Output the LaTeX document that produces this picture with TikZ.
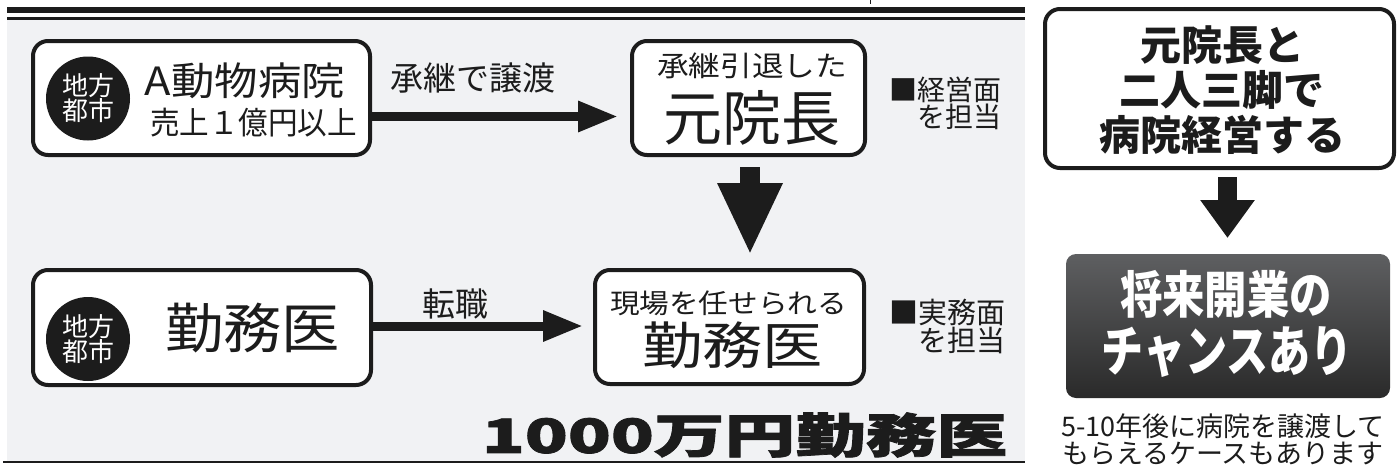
\documentclass[tikz,border=0pt]{standalone}
\usepackage{graphicx}
\usepackage{fontspec}
\setmainfont{Noto Sans CJK JP}
\newfontfamily\jpheavy[FakeBold=1.5]{Noto Sans CJK JP}
\usetikzlibrary{arrows.meta}
\newcommand\fsz[2]{\fontsize{#1}{#2}\selectfont}
\newcommand\fitbox[3]{\resizebox*{#1pt}{#2pt}{\fsz{40}{40}#3}}
\definecolor{ink}{HTML}{1C1C1C}
\definecolor{panel}{HTML}{F1F2F4}
\definecolor{darktop}{HTML}{5E5F61}
\definecolor{darkbot}{HTML}{2A2A2A}
\begin{document}
\begin{tikzpicture}[x=1pt,y=-1pt,
  box/.style={draw=ink,line width=4pt,fill=white,rounded corners=15pt,inner sep=0pt},
  circ/.style={circle,fill=ink,minimum size=84pt,inner sep=0pt,text=white,align=center,font=\fsz{26}{25}},
  txt/.style={inner sep=0pt,text=ink},
  harrow/.style={draw=ink,line width=9pt,-{Triangle[length=40pt,width=29pt]}},
]
\useasboundingbox (0,0) rectangle (1399,471);
% background panel and rules
\fill[panel] (7,19) rectangle (1025,461);
\fill[ink] (7,7) rectangle (1025,13);
\fill[ink] (7,17) rectangle (1025,19.5);
\draw[ink,line width=2pt] (3,461.5) -- (1025,461.5);
\draw[ink,line width=1pt] (870,0) -- (870,4);

% boxes
\node[box,minimum width=337pt,minimum height=114pt] (b1) at (201.5,98) {};
\node[box,minimum width=233pt,minimum height=114pt] (b2) at (748.5,98) {};
\node[box,minimum width=269pt,minimum height=114pt] (b3) at (729.5,327) {};
\node[box,minimum width=338pt,minimum height=115pt] (b4) at (202,327.5) {};
\node[box,minimum width=349pt,minimum height=159pt] (b5) at (1219.5,88.5) {};
\node[rounded corners=10pt,top color=darktop,bottom color=darkbot,
      minimum width=324pt,minimum height=144pt,inner sep=0pt] (b6) at (1228,326) {};

% circles
\node[circ] (c1) at (88,98.5) {地方\\都市};
\node[circ] (c2) at (88,339) {地方\\都市};

% box texts
\node[txt] (t1a) at (245,80.5) {\fitbox{200}{36}{A動物病院}};
\node[txt] (t1b) at (253.5,123) {\fitbox{207}{29}{売上１億円以上}};
\node[txt] (t4) at (252.5,328) {\fitbox{175}{50}{勤務医}};
\node[txt] (t2a) at (752,66) {\fitbox{190}{26}{承継引退した}};
\node[txt] (t2b) at (751.5,117.5) {\fitbox{177}{55}{元院長}};
\node[txt] (t3a) at (728.5,303) {\fitbox{237}{25}{現場を任せられる}};
\node[txt] (t3b) at (732.5,345) {\fitbox{181}{47}{勤務医}};

% side notes
\node[txt,font=\fsz{28}{27},align=right] (n1) at (945,103.5) {■経営面\\を担当};
\node[txt,font=\fsz{29}{28},align=right] (n2) at (947.5,326.5) {■実務面\\を担当};

% arrow labels
\node[txt,font=\fsz{33}{33}] (l1) at (472.5,78) {承継で譲渡};
\node[txt,font=\fsz{33}{33}] (l2) at (455,304) {転職};

% arrows
\coordinate (a1) at (618,116.5);
\draw[harrow] (b1.east |- a1) -- (a1);
\coordinate (a2) at (583,326);
\draw[harrow] (b4.east |- a2) -- (a2);
\coordinate (v1s) at (750,167);
\coordinate (v1e) at (750,255);
\draw[draw=ink,line width=20pt,-{Triangle[length=72pt,width=60pt]}] (v1s) -- (v1e);
\coordinate (v2s) at (1227.5,177);
\coordinate (v2e) at (1227.5,238);
\draw[draw=ink,line width=19pt,-{Triangle[length=38pt,width=52pt]}] (v2s) -- (v2e);

% big title
\node[txt] (big) at (744.5,435) {\resizebox*{525pt}{45pt}{\jpheavy\bfseries 1000万円勤務医}};

% right panel texts
\node[txt,font=\bfseries\fsz{41}{45},align=center] (t5) at (1222,90) {元院長と\\二人三脚で\\病院経営する};
\node[inner sep=0pt,text=white] (t6a) at (1226,294) {\resizebox*{212pt}{48pt}{\bfseries 将来開業の}};
\node[inner sep=0pt,text=white] (t6b) at (1227.5,352.5) {\resizebox*{251pt}{51pt}{\bfseries チャンスあり}};
\node[txt,font=\fsz{27}{27},align=center] (cap) at (1223,439) {5-10年後に病院を譲渡して\\もらえるケースもあります};
\end{tikzpicture}
\end{document}
